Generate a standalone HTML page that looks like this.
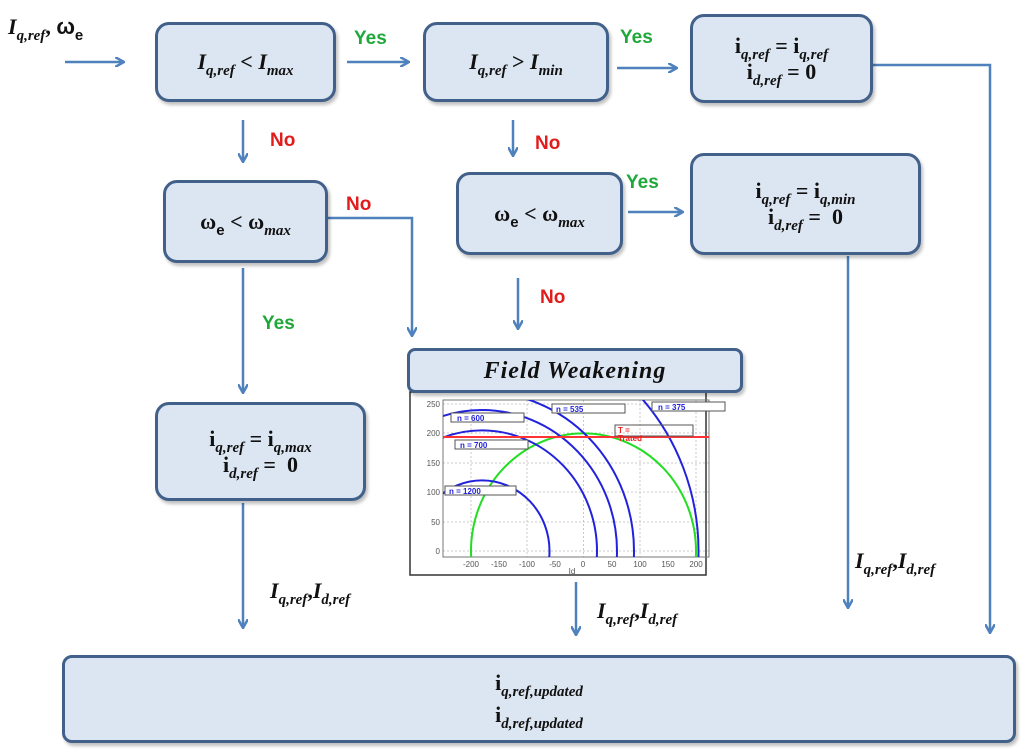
<!DOCTYPE html>
<html><head><meta charset="utf-8"><style>
body{margin:0;width:1024px;height:752px;background:#fff;position:relative;overflow:hidden;font-family:"Liberation Serif",serif}
.b{position:absolute;background:#dce6f2;border:3px solid #41608a;border-radius:14px;box-sizing:border-box;display:flex;flex-direction:column;align-items:center;justify-content:center;font-weight:bold;font-size:22px;color:#111;line-height:26px;text-align:center;box-shadow:2px 3px 3px rgba(0,0,0,0.25)}
i{font-style:italic}
sub{font-size:15px;font-style:italic;vertical-align:-6px;line-height:0}
.l{position:absolute;font-family:"Liberation Sans",sans-serif;font-weight:bold;font-size:19px}
.y{color:#1fa83a}.n{color:#e21b1b}
.t{position:absolute;font-weight:bold;font-size:22px;color:#111}
svg{position:absolute;left:0;top:0}
</style></head><body>
<svg width="1024" height="752">
<defs><marker id="a" markerWidth="10" markerHeight="10" refX="8" refY="5" orient="auto" markerUnits="userSpaceOnUse"><path d="M0,0 L9,5 L0,10" fill="none" stroke="#4f81bd" stroke-width="2.5"/></marker>
<clipPath id="c"><rect x="443" y="400" width="266" height="157"/></clipPath></defs>
<g stroke="#4f81bd" stroke-width="2.5" fill="none" marker-end="url(#a)">
<path d="M65 62H123"/><path d="M347 62H408"/><path d="M617 68H676"/>
<path d="M872 65H990V632"/><path d="M243 120V161"/><path d="M513 120V155"/>
<path d="M327 218H412V335"/><path d="M243 268V392"/><path d="M628 212H682"/>
<path d="M518 278V328"/><path d="M848 256V607"/><path d="M243 503V627"/><path d="M576 582V634"/>
</g>
<rect x="410" y="392" width="296" height="183" fill="#fff" stroke="#333" stroke-width="1.5"/>
<g stroke="#bbb" stroke-width="0.8" stroke-dasharray="2,2">
<path d="M471 400V557M527 400V557M583.5 400V557M640 400V557M696 400V557"/>
<path d="M443 404H709M443 433H709M443 463H709M443 492H709M443 522H709M443 551H709"/>
</g>
<rect x="443" y="400" width="266" height="157" fill="none" stroke="#777" stroke-width="1"/>
<g clip-path="url(#c)" fill="none" stroke-width="2">
<ellipse cx="583.5" cy="551" rx="112.5" ry="117.6" stroke="#22dd22"/>
<g stroke="#2222dd"><ellipse cx="482" cy="551" rx="67.5" ry="70.6"/><ellipse cx="482" cy="551" rx="115" ry="120.6"/><ellipse cx="482" cy="551" rx="135" ry="141"/><ellipse cx="482" cy="551" rx="152" ry="159"/><ellipse cx="482" cy="551" rx="216.5" ry="226"/></g>
<path d="M443 437H709" stroke="#ff3333"/>
</g>
<g font-family="Liberation Sans,sans-serif" font-size="8" fill="#555" text-anchor="end"><text x="440" y="407">250</text><text x="440" y="436">200</text><text x="440" y="466">150</text><text x="440" y="495">100</text><text x="440" y="525">50</text><text x="440" y="554">0</text></g>
<g font-family="Liberation Sans,sans-serif" font-size="8" fill="#555" text-anchor="middle"><text x="471" y="567">-200</text><text x="499" y="567">-150</text><text x="527" y="567">-100</text><text x="555" y="567">-50</text><text x="583" y="567">0</text><text x="612" y="567">50</text><text x="640" y="567">100</text><text x="668" y="567">150</text><text x="696" y="567">200</text><text x="572" y="574">Id</text></g>
<g font-family="Liberation Sans,sans-serif" font-size="8" font-weight="bold" fill="#22d"><rect x="451" y="413" width="73" height="9" fill="#fff" stroke="#555"/><text x="457" y="421">n = 600</text>
<rect x="552" y="404" width="73" height="9" fill="#fff" stroke="#555"/><text x="556" y="412">n = 535</text>
<rect x="652" y="402" width="73" height="9" fill="#fff" stroke="#555"/><text x="658" y="410">n = 375</text>
<rect x="455" y="440" width="73" height="9" fill="#fff" stroke="#555"/><text x="460" y="448">n = 700</text>
<rect x="445" y="486" width="71" height="9" fill="#fff" stroke="#555"/><text x="449" y="494">n = 1200</text>
<rect x="615" y="425" width="78" height="11" fill="none" stroke="#555"/><text x="618" y="433" fill="#e22">T =</text><text x="618" y="441" fill="#e22">Trated</text></g>
</svg>
<div class="b" style="left:155px;top:22px;width:181px;height:80px"><span><i>I<sub>q,ref</sub></i> &lt; <i>I<sub>max</sub></i></span></div>
<div class="b" style="left:423px;top:22px;width:186px;height:80px"><span><i>I<sub>q,ref</sub></i> &gt; <i>I<sub>min</sub></i></span></div>
<div class="b" style="left:690px;top:14px;width:183px;height:89px"><span>i<sub>q,ref</sub> = i<sub>q,ref</sub></span><span>i<sub>d,ref</sub> = 0</span></div>
<div class="b" style="left:163px;top:180px;width:165px;height:83px"><span>ω<sub style="font-style:normal;font-family:Liberation Sans">e</sub> &lt; ω<sub>max</sub></span></div>
<div class="b" style="left:456px;top:172px;width:167px;height:83px"><span>ω<sub style="font-style:normal;font-family:Liberation Sans">e</sub> &lt; ω<sub>max</sub></span></div>
<div class="b" style="left:690px;top:153px;width:231px;height:102px"><span>i<sub>q,ref</sub> = i<sub>q,min</sub></span><span>i<sub>d,ref</sub> = &nbsp;0</span></div>
<div class="b" style="left:155px;top:402px;width:211px;height:99px"><span>i<sub>q,ref</sub> = i<sub>q,max</sub></span><span>i<sub>d,ref</sub> = &nbsp;0</span></div>
<div class="b" style="left:407px;top:348px;width:336px;height:45px;border-radius:8px;font-style:italic;font-size:24px;letter-spacing:1px">Field Weakening</div>
<div class="b" style="left:62px;top:655px;width:954px;height:88px;border-radius:10px"><span>i<sub>q,ref,updated</sub></span><span style="margin-top:6px">i<sub>d,ref,updated</sub></span></div>
<div class="t" style="left:8px;top:14px"><i>I<sub>q,ref</sub></i>, <span style="font-family:Liberation Sans">ω<sub style="font-style:normal">e</sub></span></div>
<div class="t" style="left:270px;top:578px"><i>I<sub>q,ref</sub></i>,<i>I<sub>d,ref</sub></i></div>
<div class="t" style="left:597px;top:598px"><i>I<sub>q,ref</sub></i>,<i>I<sub>d,ref</sub></i></div>
<div class="t" style="left:855px;top:548px"><i>I<sub>q,ref</sub></i>,<i>I<sub>d,ref</sub></i></div>
<div class="l y" style="left:354px;top:28px">Yes</div>
<div class="l y" style="left:620px;top:27px">Yes</div>
<div class="l n" style="left:270px;top:130px">No</div>
<div class="l n" style="left:535px;top:133px">No</div>
<div class="l n" style="left:346px;top:194px">No</div>
<div class="l y" style="left:262px;top:313px">Yes</div>
<div class="l y" style="left:626px;top:172px">Yes</div>
<div class="l n" style="left:540px;top:287px">No</div>
</body></html>
